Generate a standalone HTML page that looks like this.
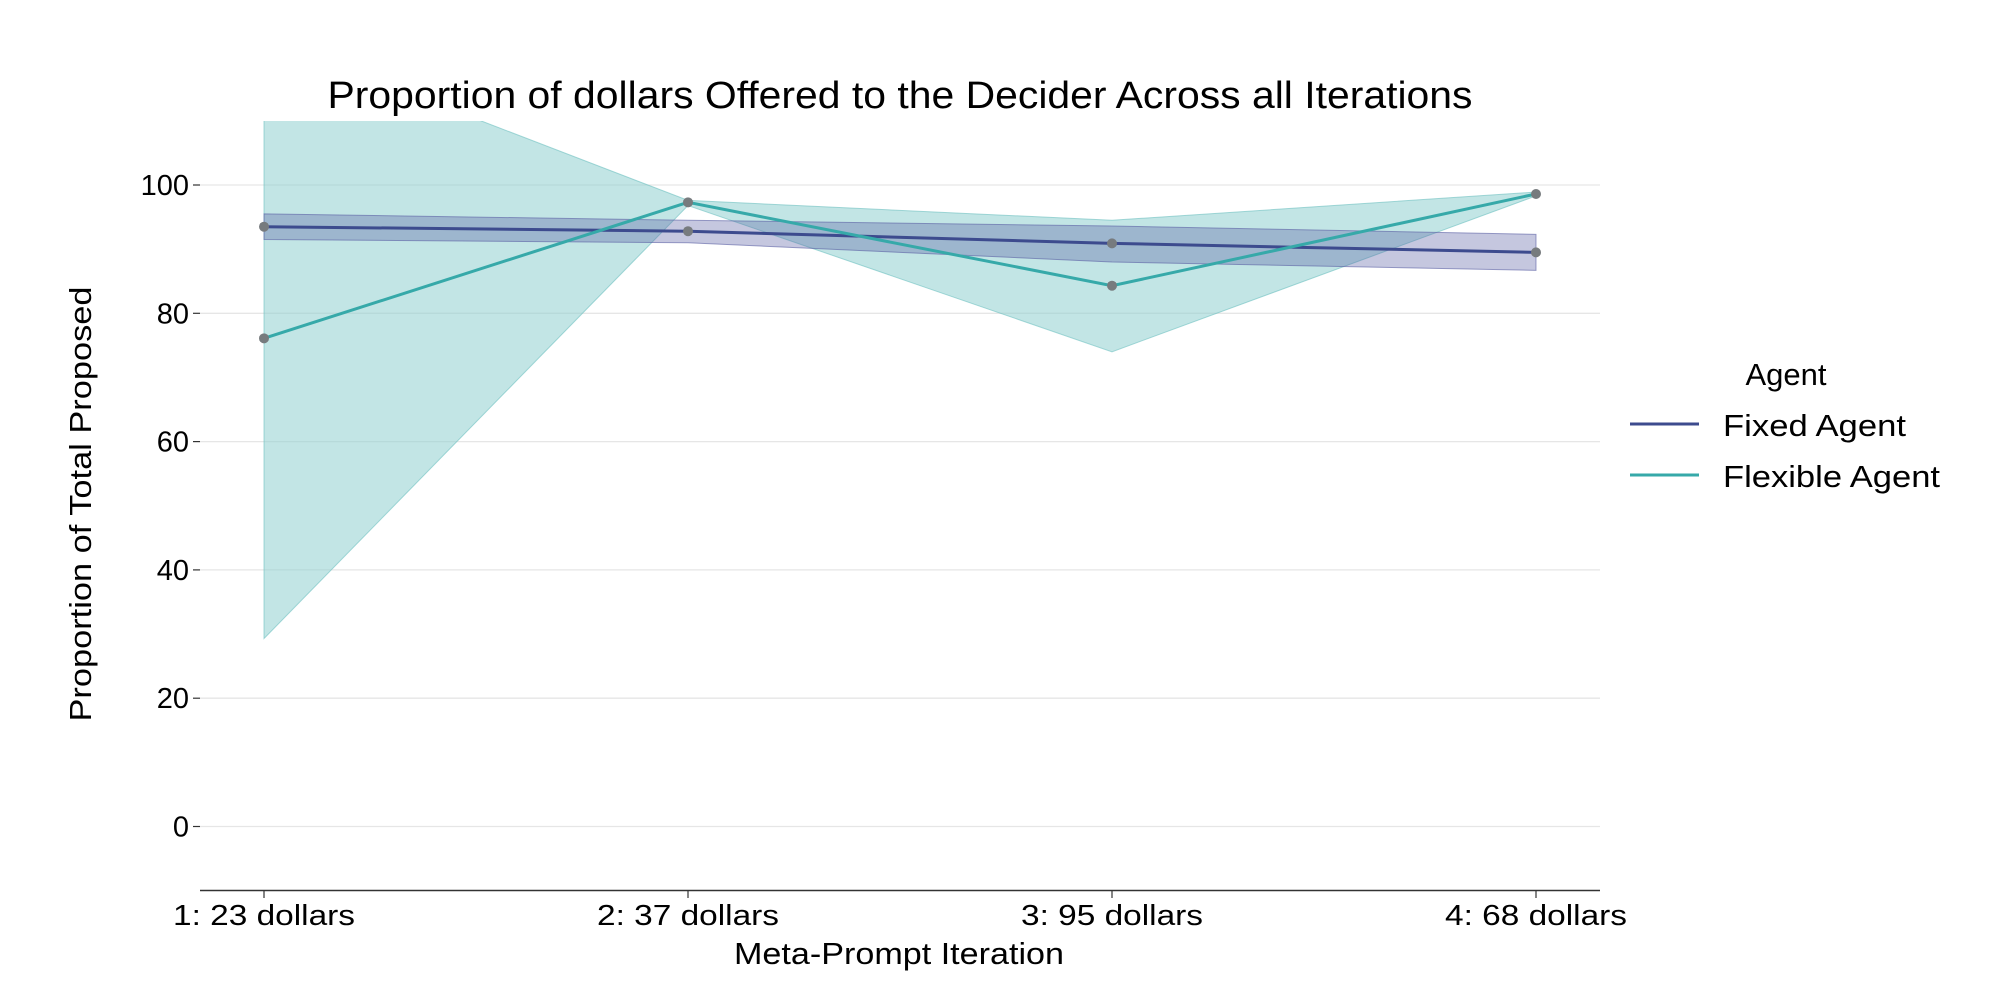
<!DOCTYPE html>
<html><head><meta charset="utf-8"><style>
html,body{margin:0;padding:0;background:#fff;}
svg{display:block;font-family:"Liberation Sans",sans-serif;}
</style></head><body>
<svg id="chart" width="2000" height="1000" xmlns="http://www.w3.org/2000/svg">
<defs><clipPath id="plotclip"><rect x="200" y="121" width="1400" height="769"/></clipPath></defs>
<text x="900" y="108" font-size="38" text-anchor="middle" textLength="1145" lengthAdjust="spacingAndGlyphs">Proportion of dollars Offered to the Decider Across all Iterations</text>
<g id="grid"></g>
<g id="bands" clip-path="url(#plotclip)"></g>
<g id="lines"></g>
<g id="yaxis"></g>
<g id="xaxis"></g>
<text transform="translate(91,504) rotate(-90)" font-size="31" text-anchor="middle" textLength="435" lengthAdjust="spacingAndGlyphs">Proportion of Total Proposed</text>
<text x="899" y="964" font-size="31" text-anchor="middle" textLength="330" lengthAdjust="spacingAndGlyphs">Meta-Prompt Iteration</text>
<g>
<text x="1786" y="385" font-size="31" text-anchor="middle">Agent</text>
<line x1="1630" y1="424" x2="1699" y2="424" stroke="#3d4b8e" stroke-width="3"/>
<text x="1723" y="436" font-size="31" textLength="183" lengthAdjust="spacingAndGlyphs">Fixed Agent</text>
<line x1="1630" y1="475" x2="1699" y2="475" stroke="#36a9a9" stroke-width="3"/>
<text x="1723" y="487" font-size="31" textLength="217" lengthAdjust="spacingAndGlyphs">Flexible Agent</text>
</g>
</svg>
<script>
const categories = ["1: 23 dollars","2: 37 dollars","3: 95 dollars","4: 68 dollars"];
const fixedMean = [93.5, 92.8, 90.9, 89.5];
const fixedLow = [91.5, 91.0, 88.0, 86.7];
const fixedHigh = [95.5, 94.5, 93.6, 92.3];
const flexMean = [76.1, 97.3, 84.3, 98.6];
const flexLow = [29.3, 96.8, 74.0, 98.3];
const flexHigh = [123, 97.6, 94.5, 98.9];
const yTicks = [0, 20, 40, 60, 80, 100];

const NS = "http://www.w3.org/2000/svg";
const xL = 264, xR = 1536;
function xs(i){ return xL + i*(xR-xL)/(categories.length-1); }
function ys(v){ return 826.5 - v*6.415; }
function mk(tag, attrs, parent){
  const e = document.createElementNS(NS, tag);
  for (const k in attrs) e.setAttribute(k, attrs[k]);
  parent.appendChild(e); return e;
}
const grid = document.getElementById("grid");
const yaxis = document.getElementById("yaxis");
const xaxis = document.getElementById("xaxis");
const bands = document.getElementById("bands");
const lines = document.getElementById("lines");

yTicks.forEach(t => {
  const g = mk("line", {x1:200, x2:1600, y1:ys(t), y2:ys(t), stroke:"#e6e6e6", "stroke-width":1.3}, grid);
  
  
  const tk = mk("line", {x1:193, x2:200, y1:ys(t), y2:ys(t), stroke:"#333", "stroke-width":1.2}, yaxis);
  
  
  const lb = mk("text", {x:189, y:ys(t)+10, "font-size":29, "text-anchor":"end"}, yaxis);
  lb.textContent = t;
  
  
});
const ax = mk("line", {x1:200, x2:1600, y1:890.5, y2:890.5, stroke:"#333", "stroke-width":1.5}, xaxis);


categories.forEach((c, i) => {
  const tk = mk("line", {x1:xs(i), x2:xs(i), y1:891, y2:898, stroke:"#333", "stroke-width":1.2}, xaxis);
  
  
  const lb = mk("text", {x:xs(i), y:925, "font-size":29, "text-anchor":"middle", textLength:182, lengthAdjust:"spacingAndGlyphs"}, xaxis);
  lb.textContent = c;
  
  
});

function band(low, high, fill, stroke, op, name){
  let pts = high.map((v,i)=>xs(i)+","+ys(v));
  for (let i=low.length-1;i>=0;i--) pts.push(xs(i)+","+ys(low[i]));
  const p = mk("polygon", {points:pts.join(" "), fill:fill, "fill-opacity":op, stroke:stroke, "stroke-opacity":0.6, "stroke-width":1}, bands);
  
  
}
band(flexLow, flexHigh, "#8fd0cf", "#6cc0bf", 0.55, "flexible-ci-band");
band(fixedLow, fixedHigh, "#5a5fa3", "#5a5fa3", 0.35, "fixed-ci-band");

function series(vals, color, name){
  const pl = mk("polyline", {points:vals.map((v,i)=>xs(i)+","+ys(v)).join(" "), fill:"none", stroke:color, "stroke-width":3}, lines);
  
  
  vals.forEach((v,i)=>{
    const c = mk("circle", {cx:xs(i), cy:ys(v), r:5, fill:"#777b7e"}, lines);
    
    
  });
}
series(fixedMean, "#3d4b8e", "fixed-agent");
series(flexMean, "#36a9a9", "flexible-agent");
</script>
</body></html>
